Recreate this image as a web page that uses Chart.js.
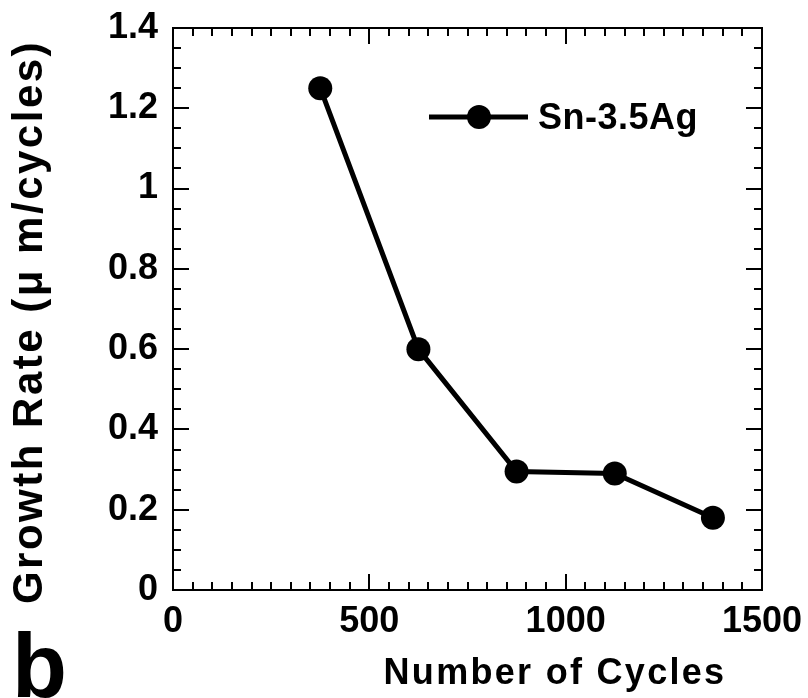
<!DOCTYPE html>
<html>
<head>
<meta charset="utf-8">
<script src="https://cdn.jsdelivr.net/npm/chart.js@4.4.0/dist/chart.umd.min.js"></script>
<style>
  html, body { margin: 0; padding: 0; background: #fff; }
  canvas { display: block; }
</style>
</head>
<body>
<canvas id="growthChart" width="808" height="698"></canvas>
<script>
// growth rate vs. thermal cycles
const cycles = [375, 625, 875, 1125, 1375];
const growthRate = [1.25, 0.60, 0.295, 0.29, 0.18];
const seriesName = 'Sn-3.5Ag';
const xTitle = 'Number of Cycles';
const yTitle = 'Growth Rate (\u03bc m/cycles)';
const panelLetter = 'b';

const FONT = "'Liberation Sans', Arial, Helvetica, sans-serif";

// frame box with inward major/minor ticks on all four sides
const frameTicks = {
    id: 'frameTicks',
    beforeDatasetsDraw(chart) {
        const { ctx, chartArea: a, scales: { x, y } } = chart;
        ctx.save();
        ctx.strokeStyle = '#000';
        ctx.lineWidth = 2;
        ctx.strokeRect(a.left, a.top, a.right - a.left, a.bottom - a.top);
        ctx.beginPath();
        for (let i = 0; i <= 30; i++) {
            const px = Math.round(x.getPixelForValue(i * 50));
            const len = i % 10 === 0 ? 16 : 8;
            ctx.moveTo(px, a.bottom); ctx.lineTo(px, a.bottom - len);
            ctx.moveTo(px, a.top); ctx.lineTo(px, a.top + len);
        }
        for (let i = 0; i <= 28; i++) {
            const py = Math.round(y.getPixelForValue(i * 0.05));
            const len = i % 4 === 0 ? 16 : 8;
            ctx.moveTo(a.left, py); ctx.lineTo(a.left + len, py);
            ctx.moveTo(a.right, py); ctx.lineTo(a.right - len, py);
        }
        ctx.stroke();
        ctx.restore();
    },
    afterDraw(chart) {
        const { ctx } = chart;
        const ds = chart.data.datasets[0];
        ctx.save();
        ctx.fillStyle = '#000';
        ctx.strokeStyle = '#000';

        // legend
        ctx.lineWidth = ds.borderWidth;
        ctx.beginPath();
        ctx.moveTo(429, 117); ctx.lineTo(528, 117);
        ctx.stroke();
        ctx.beginPath();
        ctx.arc(479, 117, ds.pointRadius, 0, Math.PI * 2);
        ctx.fill();
        ctx.font = `bold 36px ${FONT}`;
        ctx.letterSpacing = '0.5px';
        ctx.textAlign = 'left';
        ctx.textBaseline = 'middle';
        ctx.fillText(ds.label, 538, 119);

        // axis titles
        ctx.letterSpacing = '2.3px';
        ctx.textAlign = 'center';
        ctx.fillText(xTitle, 555, 674);
        ctx.save();
        ctx.translate(30, 322);
        ctx.rotate(-Math.PI / 2);
        ctx.font = `bold 42px ${FONT}`;
        ctx.letterSpacing = '2.5px';
        ctx.fillText(yTitle, 0, 0);
        ctx.restore();

        // panel letter
        ctx.letterSpacing = '0px';
        ctx.font = `bold 90px ${FONT}`;
        ctx.textAlign = 'left';
        ctx.textBaseline = 'alphabetic';
        ctx.fillText(panelLetter, 12, 697);
        ctx.restore();
    }
};

new Chart(document.getElementById('growthChart'), {
    type: 'line',
    data: {
        labels: cycles,
        datasets: [{
            label: seriesName,
            data: cycles.map((c, i) => ({ x: c, y: growthRate[i] })),
            borderColor: '#000',
            backgroundColor: '#000',
            borderWidth: 5,
            pointRadius: 12,
            pointBackgroundColor: '#000',
            pointBorderWidth: 0,
            tension: 0
        }]
    },
    options: {
        responsive: false,
        animation: false,
        layout: { padding: { top: 28, right: 46, left: 0, bottom: 0 } },
        plugins: { legend: { display: false }, tooltip: { enabled: false } },
        scales: {
            x: {
                type: 'linear',
                min: 0,
                max: 1500,
                grid: { display: false, drawTicks: false },
                border: { display: false },
                ticks: {
                    stepSize: 500,
                    maxRotation: 0,
                    padding: 10,
                    color: '#000',
                    font: { family: FONT, size: 36, weight: 'bold' },
                    callback: v => String(v)
                },
                afterFit(scale) {
                    scale.height = 108;
                    scale.paddingLeft = 0;
                    scale.paddingRight = 0;
                }
            },
            y: {
                min: 0,
                max: 1.4,
                grid: { display: false, drawTicks: false },
                border: { display: false },
                ticks: {
                    stepSize: 0.2,
                    padding: 15,
                    color: '#000',
                    font: { family: FONT, size: 36, weight: 'bold' },
                    callback: v => String(Number(v.toFixed(1)))
                },
                afterFit(scale) {
                    scale.width = 173;
                    scale.paddingTop = 0;
                    scale.paddingBottom = 0;
                }
            }
        }
    },
    plugins: [frameTicks]
});
</script>
</body>
</html>
